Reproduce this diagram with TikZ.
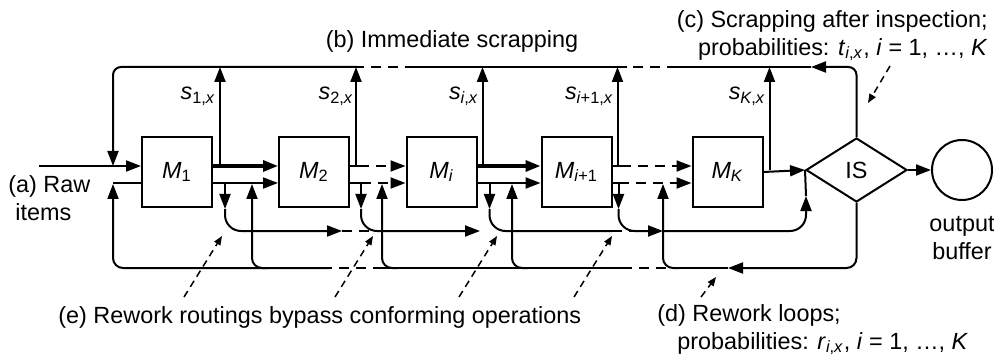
\documentclass[tikz,border=0pt]{standalone}
\usepackage{fontspec}
\setmainfont{Liberation Sans}
\usetikzlibrary{arrows.meta,calc,shapes.geometric}

\begin{document}
\begin{tikzpicture}[x=0.5pt, y=-0.5pt,
    font=\fontsize{11.7}{14}\selectfont,
    mach/.style={draw, line width=1pt, minimum width=35pt, minimum height=35pt, inner sep=0pt},
    ln/.style={line width=1pt},
    arr/.style={ln, -{Triangle[length=7.5pt,width=5.5pt]}},
    thk/.style={line width=1.6pt},
    dsh/.style={dash pattern=on 5pt off 3.5pt},
    ptr/.style={line width=0.75pt, dash pattern=on 3.5pt off 2.5pt, -{Triangle[length=4.5pt,width=3.5pt]}},
    lbl/.style={inner sep=0pt},
    sub/.style={lbl, anchor=base east},
  ]
  \useasboundingbox (0,0) rectangle (994,363);

  % rows of the flow lines
  \coordinate (top) at (0,67);
  \coordinate (up) at (0,166);
  \coordinate (lo) at (0,183);
  \coordinate (raw) at (39,166);

  % stations
  \node[mach] (m1) at (177,172) {\textit{M}\textsubscript{1}};
  \node[mach] (m2) at (314,172) {\textit{M}\textsubscript{2}};
  \node[mach] (mi) at (441.5,172) {\textit{M}\textsubscript{\textit{i}}};
  \node[mach] (mj) at (576.5,172) {\textit{M}\textsubscript{\textit{i}+1}};
  \node[mach] (mk) at (727.5,172) {\textit{M}\textsubscript{\textit{K}}};
  \node[draw, diamond, line width=1pt, minimum width=50.5pt, minimum height=32pt, inner sep=0pt] (is) at (856.5,170) {IS};
  \node[draw, circle, line width=1pt, minimum size=30pt, inner sep=0pt] (buf) at (962,170) {};
  \draw[arr] (is.east) -- (buf.west);

  % main flow, upper line
  \draw[arr] (raw) -- (m1.west|-up);
  \draw[arr,thk] (m1.east|-up) -- (m2.west|-up);
  \draw[ln] (m2.east|-up) -- ++(9,0) coordinate (a2);
  \draw[arr,dsh] (a2) -- (mi.west|-up);
  \draw[arr,thk] (mi.east|-up) -- (mj.west|-up);
  \draw[ln] (mj.east|-up) -- ++(8,0) coordinate (aj);
  \draw[arr,dsh] (aj) -- (mk.west|-up);
  \draw[arr] (mk.east) -- (is.west);

  % lower line
  \draw[arr] (m1.east|-lo) -- (m2.west|-lo);
  \draw[ln] (m2.east|-lo) -- ++(11,0) coordinate (b2);
  \draw[arr,dsh] (b2) -- (mi.west|-lo);
  \draw[arr] (mi.east|-lo) -- (mj.west|-lo);
  \draw[ln] (mj.east|-lo) -- ++(6,0) coordinate (bj);
  \draw[arr,dsh] (bj) -- (mk.west|-lo);

  % immediate scrapping
  \foreach \m/\d in {m1/7, m2/6, mi/5, mj/5}
    \draw[arr] ($(\m.east|-up)+(\d,0)$) -- ($(\m.east|-top)+(\d,0)$);
  \draw[arr] ($(mk.east)+(6,-2)$) -- ($(mk.east|-top)+(6,0)$);
  \node[sub] at (216,100) {\textit{s}\textsubscript{1,\textit{x}}};
  \node[sub] at (354,100) {\textit{s}\textsubscript{2,\textit{x}}};
  \node[sub] at (479,100) {\textit{s}\textsubscript{\textit{i},\textit{x}}};
  \node[sub] at (614,100) {\textit{s}\textsubscript{\textit{i}+1,\textit{x}}};
  \node[sub] at (766,100) {\textit{s}\textsubscript{\textit{K},\textit{x}}};

  \draw[arr, rounded corners=4pt] (is.north) |- (811,67);
  \draw[ln] (811,67) -- (677,67);
  \draw[ln,dsh] (677,67) -- (627,67);
  \draw[ln] (627,67) -- (415,67);
  \draw[ln,dsh] (415,67) -- (357,67);
  \draw[arr, rounded corners=4pt] (357,67) -| (113,166);

  % rework routings
  \draw[arr] ($(m1.east|-lo)+(12,0)$) coordinate (b1) -- ++(0,26) coordinate (b1e);
  \draw[arr, rounded corners=8pt] (b1e) |- (342,231);
  \draw[ln,dsh] (342,231) -- (380,231);
  \draw[arr] (b2) -- ++(0,26) coordinate (b2e);
  \draw[arr, rounded corners=8pt] (b2e) |- (480,231);
  \draw[arr] ($(mi.east|-lo)+(12,0)$) coordinate (bi) -- ++(0,26) coordinate (bie);
  \draw[ln, rounded corners=8pt] (bie) |- (612,231);
  \draw[ln,dsh] (612,231) -- (645,231);
  \draw[arr] (bj) -- ++(0,26) coordinate (bje);
  \draw[arr, rounded corners=8pt] (bje) |- (663,231);
  \draw[arr, rounded corners=8pt] (663,231) -| (806,196);
  \draw[ln] (806,196) -- (is.west);

  % rework loops
  \draw[arr, rounded corners=5pt] (is.south) |- (728,268);
  \draw[ln] (728,268) -- (683,268);
  \draw[ln,dsh] (683,268) -- (622,268);
  \draw[ln] (622,268) -- (383,268);
  \draw[ln,dsh] (383,268) -- (330,268);
  \draw[arr, rounded corners=5pt] (330,268) -| (113,184);
  \draw[ln] (113,183) -- (m1.west|-lo);
  \foreach \x in {252,382,512,663}
    \draw[arr, rounded corners=5pt] (\x+16,268) -| (\x,184);

  % labels
  \node[lbl, align=left, anchor=west] (rawl) at (8,198) {(a) Raw\\\hspace*{3.5pt}items};
  \node[lbl, anchor=base] (bl) at (452,48) {(b) Immediate scrapping};
  \node[lbl, align=right, anchor=north east] (cl) at (988,10) {(c) Scrapping after inspection;\\probabilities: \textit{t}\textsubscript{\textit{i},\textit{x}}, \textit{i} = 1, …, \textit{K}};
  \node[lbl, anchor=base west] (el) at (58,323) {(e) Rework routings bypass conforming operations};
  \node[lbl, align=left, anchor=north west] (dl) at (657,304) {(d) Rework loops;\\\hspace*{10pt}probabilities: \textit{r}\textsubscript{\textit{i},\textit{x}}, \textit{i} = 1, …, \textit{K}};
  \node[lbl, align=center, anchor=north] (bufl) at (962,216) {output\\buffer};

  % pointers
  \foreach \x in {222,373,497,612}
    \draw[ptr] (\x-38,297) -- (\x,236);
  \draw[ptr] (701,297) -- (716,277);
  \draw[ptr] (890,66) -- (868,103);
\end{tikzpicture}
\end{document}
